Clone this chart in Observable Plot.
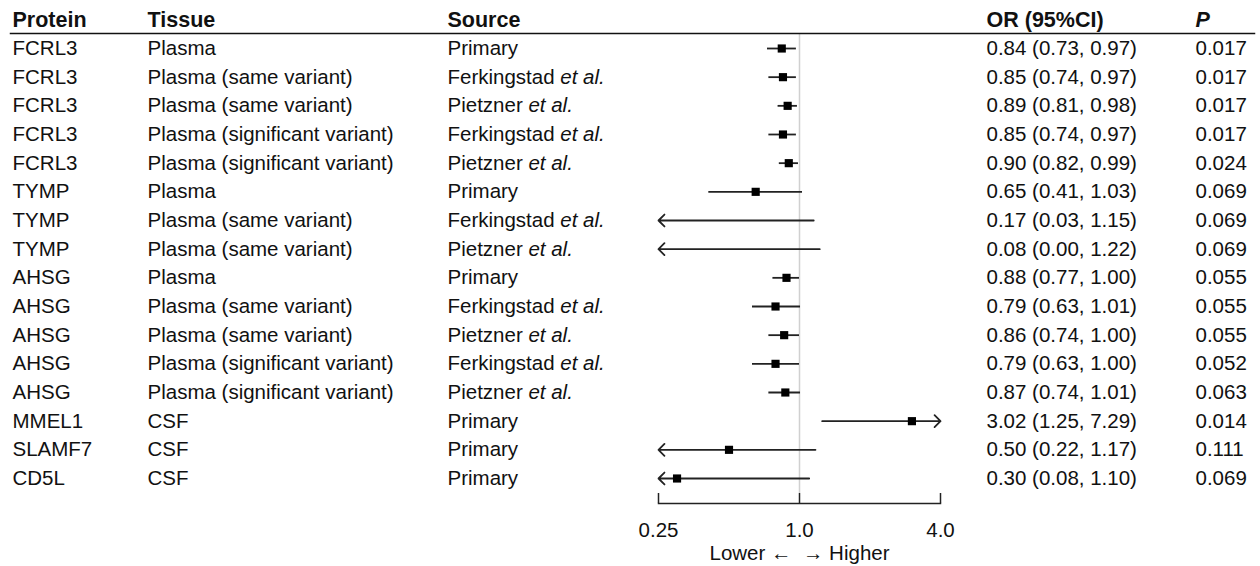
<!DOCTYPE html>
<html>
<head>
<meta charset="utf-8">
<script src="https://cdn.jsdelivr.net/npm/d3@7"></script>
<script src="https://cdn.jsdelivr.net/npm/@observablehq/plot@0.6"></script>
<style>
  html, body { margin: 0; padding: 0; background: #fff; }
  #chart svg { display: block; }
</style>
</head>
<body>
<div id="chart"></div>
<script>
// ---- data ----
const proteins = ["FCRL3","FCRL3","FCRL3","FCRL3","FCRL3","TYMP","TYMP","TYMP","AHSG","AHSG","AHSG","AHSG","AHSG","MMEL1","SLAMF7","CD5L"];
const tissues = ["Plasma","Plasma (same variant)","Plasma (same variant)","Plasma (significant variant)","Plasma (significant variant)",
  "Plasma","Plasma (same variant)","Plasma (same variant)",
  "Plasma","Plasma (same variant)","Plasma (same variant)","Plasma (significant variant)","Plasma (significant variant)",
  "CSF","CSF","CSF"];
const sources = ["Primary","Ferkingstad","Pietzner","Ferkingstad","Pietzner",
  "Primary","Ferkingstad","Pietzner",
  "Primary","Ferkingstad","Pietzner","Ferkingstad","Pietzner",
  "Primary","Primary","Primary"];
const oddsRatios = [0.84,0.85,0.89,0.85,0.90,0.65,0.17,0.08,0.88,0.79,0.86,0.79,0.87,3.02,0.50,0.30];
const ciLower    = [0.73,0.74,0.81,0.74,0.82,0.41,0.03,0.00,0.77,0.63,0.74,0.63,0.74,1.25,0.22,0.08];
const ciUpper    = [0.97,0.97,0.98,0.97,0.99,1.03,1.15,1.22,1.00,1.01,1.00,1.00,1.01,7.29,1.17,1.10];
const pValues = ["0.017","0.017","0.017","0.017","0.024","0.069","0.069","0.069","0.055","0.055","0.055","0.052","0.063","0.014","0.111","0.069"];
const headers = ["Protein","Tissue","Source","OR (95%CI)","P"];
const xTicks = [0.25, 1, 4];
const xTickLabels = ["0.25","1.0","4.0"];
const xLimits = [0.25, 4];
const footer = "Lower \u2190  \u2192 Higher";

// ---- layout ----
const W = 1260, H = 566;
const FONT = "'Liberation Sans', Arial, Helvetica, sans-serif";
const FS = 20.5;
const HFS = 21.5;
const mL = 658, mR = 320, mT = 33, mB = 63;
const colX = {protein: 12, tissue: 147, source: 447, or: 986, p: 1195};
const leftDx = x => x - mL;
const rightDx = x => x - (W - mR);

const rows = proteins.map((p, i) => ({
  i, protein: p, tissue: tissues[i], source: sources[i],
  or: oddsRatios[i], lo: ciLower[i], hi: ciUpper[i], p: pValues[i],
  orText: `${oddsRatios[i].toFixed(2)} (${ciLower[i].toFixed(2)}, ${ciUpper[i].toFixed(2)})`,
  loC: Math.max(ciLower[i], xLimits[0]), hiC: Math.min(ciUpper[i], xLimits[1])
}));

const canvas = document.createElement("canvas");
const ctx = canvas.getContext("2d");
ctx.font = `${FS}px ${FONT}`;
const measure = s => ctx.measureText(s).width;

const plain = rows.filter(d => d.lo >= xLimits[0] && d.hi <= xLimits[1]);
const leftArrows = rows.filter(d => d.lo < xLimits[0]);
const rightArrows = rows.filter(d => d.hi > xLimits[1]);
const visiblePts = rows.filter(d => d.or >= xLimits[0] && d.or <= xLimits[1]);

const textCommon = {fontSize: FS, fontFamily: FONT, fill: "#111", lineAnchor: "middle"};
const leftCol = (data, text, x, extra = {}) =>
  Plot.text(data, {y: "i", text, frameAnchor: "left", textAnchor: "start", dx: leftDx(x), ...textCommon, ...extra});
const rightCol = (data, text, x, extra = {}) =>
  Plot.text(data, {y: "i", text, frameAnchor: "right", textAnchor: "start", dx: rightDx(x), ...textCommon, ...extra});
const headerMark = (label, x, anchorSide, extra = {}) =>
  Plot.text([label], {text: d => d, frameAnchor: "top-" + anchorSide, textAnchor: "start",
    dx: anchorSide === "left" ? leftDx(x) : rightDx(x), dy: -13, ...textCommon, fontSize: HFS, fontWeight: "bold", ...extra});

const etAlMarks = ["Ferkingstad", "Pietzner"].map(name =>
  leftCol(rows.filter(d => d.source === name), () => "et al.", colX.source + measure(name + " "), {fontStyle: "italic"}));

const lineStyle = {stroke: "#222", strokeWidth: 1.8};

const chart = Plot.plot({
  width: W, height: H,
  marginLeft: mL, marginRight: mR, marginTop: mT, marginBottom: mB,
  style: {fontFamily: FONT, background: "#fff"},
  x: {type: "log", domain: xLimits, axis: null},
  y: {type: "point", domain: d3.range(rows.length), padding: 0, round: false, insetTop: 15, insetBottom: 25, axis: null},
  marks: [
    Plot.ruleX([1], {stroke: "#d0d0d0", strokeWidth: 1.5, insetBottom: 10}),
    Plot.frame({anchor: "top", stroke: "#111", strokeWidth: 1.5, insetLeft: -(mL - 10), insetRight: -(mR - 6)}),
    Plot.frame({anchor: "bottom", stroke: "#222", strokeWidth: 1.5}),
    Plot.tickX(xTicks, {x: d => d, stroke: "#222", strokeWidth: 1.5, insetTop: (H - mT - mB) - 10}),
    Plot.text(xTicks, {x: d => d, text: (d, i) => xTickLabels[i], frameAnchor: "bottom", dy: 27, ...textCommon}),
    Plot.text([footer], {text: d => d, frameAnchor: "bottom", dy: 50, ...textCommon}),
    Plot.ruleY(plain, {y: "i", x1: "loC", x2: "hiC", ...lineStyle}),
    Plot.arrow(leftArrows, {y1: "i", y2: "i", x1: "hiC", x2: "loC", ...lineStyle, headAngle: 90, headLength: 7}),
    Plot.arrow(rightArrows, {y1: "i", y2: "i", x1: "loC", x2: "hiC", ...lineStyle, headAngle: 90, headLength: 7}),
    Plot.dot(visiblePts, {x: "or", y: "i", symbol: "square", r: 4.6, fill: "#000", stroke: "none"}),
    headerMark(headers[0], colX.protein, "left"),
    headerMark(headers[1], colX.tissue, "left"),
    headerMark(headers[2], colX.source, "left"),
    headerMark(headers[3], colX.or, "right"),
    headerMark(headers[4], colX.p, "right", {fontStyle: "italic"}),
    leftCol(rows, "protein", colX.protein),
    leftCol(rows, "tissue", colX.tissue),
    leftCol(rows, "source", colX.source),
    ...etAlMarks,
    rightCol(rows, "orText", colX.or),
    rightCol(rows, "p", colX.p)
  ]
});
document.getElementById("chart").appendChild(chart);
</script>
</body>
</html>
